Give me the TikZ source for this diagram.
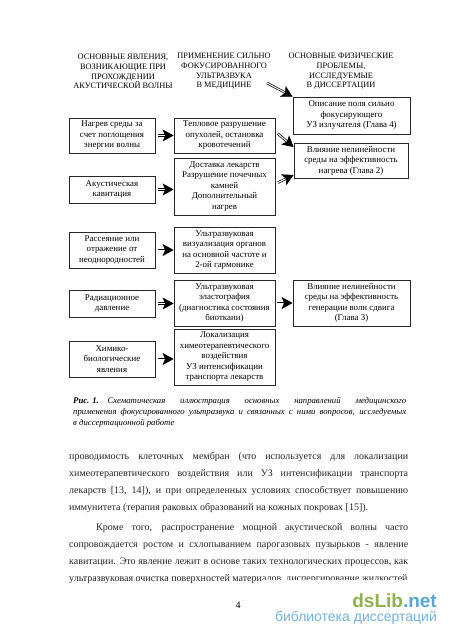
\documentclass[tikz,border=0pt]{standalone}
\usepackage{xcolor}
\usepackage{fontspec}
\setmainfont{Liberation Serif}
\newfontfamily\wmfont{Liberation Sans}
\usetikzlibrary{arrows.meta, positioning}
\definecolor{wmgreen}{HTML}{8FB04E}
\definecolor{wmblue}{HTML}{5AA5D6}

\begin{document}
\begin{tikzpicture}[
    x=1pt, y=-1pt,
    entity/.style={rectangle, draw=black!85, line width=0.8pt, inner sep=0pt, align=center, font=\fontsize{8.9}{10.5}\selectfont},
    leftbox/.style={entity, minimum width=86pt},
    midbox/.style={entity, minimum width=101pt},
    rightbox/.style={entity, minimum width=117pt},
    heading/.style={align=center, inner sep=0pt, font=\fontsize{8.3}{9.7}\selectfont},
    link/.style={double, double distance=1pt, line width=0.7pt, -{Stealth[length=11pt,width=12pt,inset=2.5pt]}},
    bodytext/.style={inner sep=0pt, text width=339pt, align=justify, anchor=north west, font=\fontsize{10}{16.9}\selectfont, text=black!85}
]
\fill[white] (0,0) rectangle (450,637);
\useasboundingbox (0,0) rectangle (450,637);

% Headings
\node[heading] (head1) at (123,71.5) {ОСНОВНЫЕ ЯВЛЕНИЯ,\\ВОЗНИКАЮЩИЕ ПРИ\\ПРОХОЖДЕНИИ\\АКУСТИЧЕСКОЙ ВОЛНЫ};
\node[heading] (head2) at (224,71.5) {ПРИМЕНЕНИЕ СИЛЬНО\\ФОКУСИРОВАННОГО\\УЛЬТРАЗВУКА\\В МЕДИЦИНЕ};
\node[heading] (head3) at (341,71.5) {ОСНОВНЫЕ ФИЗИЧЕСКИЕ\\ПРОБЛЕМЫ,\\ИССЛЕДУЕМЫЕ\\В ДИССЕРТАЦИИ};

% Boxes
\node[leftbox, minimum height=35pt] (heating) at (112,135.5) {Нагрев среды за\\счет поглощения\\энергии волны};
\node[leftbox, minimum height=27pt] (cavitation) at (112,189.5) {Акустическая\\кавитация};
\node[leftbox, minimum height=36pt] (scatter) at (112,250) {Рассеяние или\\отражение от\\неоднородностей};
\node[leftbox, minimum height=27pt] (radiation) at (112,303.5) {Радиационное\\давление};
\node[leftbox, minimum height=36pt] (chembio) at (112,359) {Химико-\\биологические\\явления};

\node[midbox, minimum height=35pt] (thermal) at (224.5,135.5) {Тепловое разрушение\\опухолей, остановка\\кровотечений};
\node[midbox, minimum height=57pt] (delivery) at (224.5,186.5) {Доставка лекарств\\Разрушение почечных\\камней\\Дополнительный\\нагрев};
\node[midbox, minimum height=46pt] (imaging) at (224.5,250) {Ультразвуковая\\визуализация органов\\на основной частоте и\\2-ой гармонике};
\node[midbox, minimum height=46pt] (elasto) at (224.5,303) {Ультразвуковая\\эластография\\(диагностика состояния\\биоткани)};
\node[midbox, minimum height=56pt] (local) at (224.5,357) {Локализация\\химеотерапевтического\\воздействия\\УЗ интенсификации\\транспорта лекарств};

\node[rightbox, minimum height=37pt] (field) at (351.5,115.5) {Описание поля сильно\\фокусирующего\\УЗ излучателя (Глава 4)};
\node[rightbox, minimum width=114pt, minimum height=35pt] (nonlin) at (351,160.5) {Влияние нелинейности\\среды на эффективность\\нагрева (Глава 2)};
\node[rightbox, minimum height=46pt] (shear) at (351.5,303) {Влияние нелинейности\\среды на эффективность\\генерации волн сдвига\\(Глава 3)};

% Links
\coordinate (start) at (267,83);
\draw[link] (start) -- (field.north west);
\draw[link] (heating.east) ++(3,0) -- (thermal.west);
\draw[link] (cavitation.east) ++(3,0) -- (delivery.west |- cavitation.east);
\draw[link] (scatter.east) ++(3,0) -- (imaging.west);
\draw[link] (radiation.east) ++(3,0) -- (elasto.west |- radiation.east);
\draw[link] (chembio.east) ++(3,0) -- (local.west |- chembio.east);
\draw[link] (elasto.east) ++(2,0) -- (shear.west);
\draw[link, shorten <=1pt] (277,133) -- (nonlin.west |- 0,147);
\draw[link, shorten <=1pt] (277,183) -- (nonlin.west |- 0,175);

% Caption
\node[inner sep=0pt, text width=333pt, align=justify, anchor=north west, font=\fontsize{8.7}{10.9}\selectfont\itshape] (caption) at (73,397.5) {\mbox{\textbf{Рис. 1.}}\quad Схематическая иллюстрация основных направлений медицинского\linebreak применения фокусированного ультразвука и связанных с ними вопросов, исследуемых\linebreak в диссертационной работе};

% Page text
\node[bodytext] (para1) at (69,452) {проводимость клеточных мембран (что используется для локализации\linebreak химеотерапевтического воздействия или УЗ интенсификации транспорта\linebreak лекарств [13, 14]), и при определенных условиях способствует повышению\linebreak иммунитета (терапия раковых образований на кожных покровах [15]).};
\node[bodytext] (para2) at (69,523.5) {\hspace*{27pt}Кроме того, распространение мощной акустической волны часто\linebreak сопровождается ростом и схлопыванием парогазовых пузырьков - явление\linebreak кавитации. Это явление лежит в основе таких технологических процессов, как\linebreak ультразвуковая очистка поверхностей материалов, диспергирование жидкостей};

% Watermark
\fill[white] (262,579.5) rectangle (450,637);
\node[inner sep=0pt, font=\fontsize{10}{12}\selectfont] (pagenum) at (238,605) {4};
\node[inner sep=0pt, anchor=base east, font=\wmfont\bfseries\fontsize{19}{22}\selectfont] (wmtop) at (437,607) {\textcolor{wmgreen}{dsLib}\textcolor{wmblue}{.net}};
\node[inner sep=0pt, anchor=base east, font=\wmfont\fontsize{14}{16}\selectfont, text=wmblue!85] (wmbottom) at (437,621) {библиотека диссертаций};
\end{tikzpicture}
\end{document}
